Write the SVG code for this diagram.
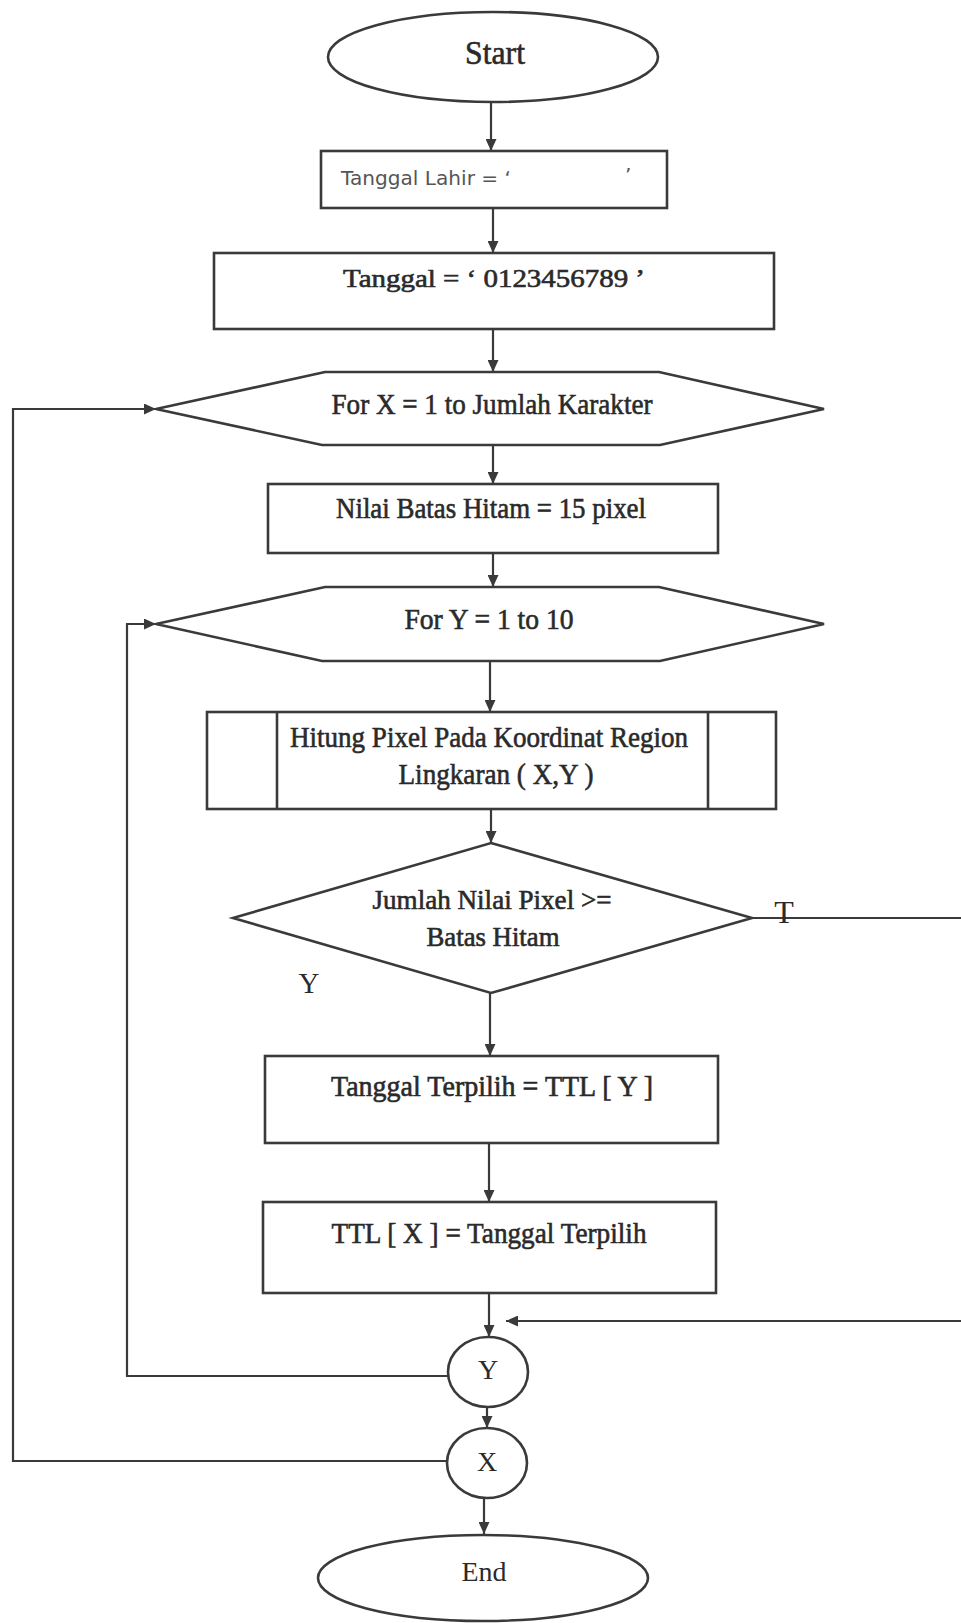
<svg xmlns="http://www.w3.org/2000/svg" width="961" height="1623" viewBox="0 0 961 1623">
<style>
.s{fill:#fff;stroke:#3a3a3a;stroke-width:2.6}
.c{fill:none;stroke:#3a3a3a;stroke-width:2.2}
.t{font-family:"Liberation Serif","Times New Roman",serif;fill:#2a2a2a;text-anchor:middle;stroke:#2a2a2a;stroke-width:0.6}
.n{font-family:"Liberation Serif","Times New Roman",serif;fill:#2a2a2a;text-anchor:middle}
.sans{font-family:"DejaVu Sans","Liberation Sans",sans-serif;fill:#555}
</style>
<defs>
<marker id="ah" markerUnits="userSpaceOnUse" markerWidth="12" markerHeight="11" refX="12" refY="5.5" orient="auto">
<path d="M0,0 L12,5.5 L0,11 z" fill="#3a3a3a"/>
</marker>
</defs>
<rect width="961" height="1623" fill="#fff"/>
<g id="connectors">
<path class="c" d="M491,102 V151" marker-end="url(#ah)"/>
<path class="c" d="M493,208 V253" marker-end="url(#ah)"/>
<path class="c" d="M493,329 V372" marker-end="url(#ah)"/>
<path class="c" d="M493,445 V484" marker-end="url(#ah)"/>
<path class="c" d="M493,553 V587" marker-end="url(#ah)"/>
<path class="c" d="M490,661 V712" marker-end="url(#ah)"/>
<path class="c" d="M491,809 V843" marker-end="url(#ah)"/>
<path class="c" d="M490,993 V1056" marker-end="url(#ah)"/>
<path class="c" d="M489,1143 V1202" marker-end="url(#ah)"/>
<path class="c" d="M489,1293 V1337" marker-end="url(#ah)"/>
<path class="c" d="M487,1407 V1428" marker-end="url(#ah)"/>
<path class="c" d="M484,1498 V1534" marker-end="url(#ah)"/>
<path class="c" d="M752,918 H968 V1321 H506" marker-end="url(#ah)"/>
<path class="c" d="M448,1376 H127 V624 H156" marker-end="url(#ah)"/>
<path class="c" d="M446,1461 H13 V409 H156" marker-end="url(#ah)"/>
<text class="n" x="784" y="923" font-size="32">T</text>
<text class="n" x="309" y="993" font-size="29">Y</text>
</g>
<g id="start">
<ellipse class="s" cx="493" cy="57" rx="165" ry="45"/>
<text class="t" x="495" y="64" font-size="34" textLength="60" lengthAdjust="spacingAndGlyphs">Start</text>
</g>
<g id="tanggal-lahir">
<rect class="s" x="321" y="151" width="346" height="57"/>
<text class="sans" x="341" y="185" font-size="20" textLength="170" lengthAdjust="spacingAndGlyphs">Tanggal Lahir = ‘</text>
<text class="sans" x="625" y="182" font-size="20">’</text>
</g>
<g id="tanggal">
<rect class="s" x="214" y="253" width="560" height="76"/>
<text class="t" x="494" y="287" font-size="25" textLength="302" lengthAdjust="spacingAndGlyphs">Tanggal = ‘ 0123456789 ’</text>
</g>
<g id="for-x">
<polygon class="s" points="156,409 325,372 659,372 824,409 660,445 322,445"/>
<text class="t" x="492" y="414" font-size="30" textLength="321" lengthAdjust="spacingAndGlyphs">For X = 1 to Jumlah Karakter</text>
</g>
<g id="nilai-batas">
<rect class="s" x="268" y="484" width="450" height="69"/>
<text class="t" x="491" y="518" font-size="29" textLength="310" lengthAdjust="spacingAndGlyphs">Nilai Batas Hitam = 15 pixel</text>
</g>
<g id="for-y">
<polygon class="s" points="156,624 325,587 659,587 824,624 660,661 322,661"/>
<text class="t" x="489" y="629" font-size="29" textLength="169" lengthAdjust="spacingAndGlyphs">For Y = 1 to 10</text>
</g>
<g id="hitung-pixel">
<rect class="s" x="207" y="712" width="569" height="97"/>
<line class="s" x1="277" y1="712" x2="277" y2="809"/>
<line class="s" x1="708" y1="712" x2="708" y2="809"/>
<text class="t" x="489" y="747" font-size="30" textLength="398" lengthAdjust="spacingAndGlyphs">Hitung Pixel Pada Koordinat Region</text>
<text class="t" x="496" y="784" font-size="30" textLength="195" lengthAdjust="spacingAndGlyphs">Lingkaran ( X,Y )</text>
</g>
<g id="decision">
<polygon class="s" points="491,843 752,918 491,993 233,918"/>
<text class="t" x="492" y="909" font-size="27" textLength="239" lengthAdjust="spacingAndGlyphs">Jumlah Nilai Pixel &gt;=</text>
<text class="t" x="493" y="946" font-size="27" textLength="133" lengthAdjust="spacingAndGlyphs">Batas Hitam</text>
</g>
<g id="tanggal-terpilih">
<rect class="s" x="265" y="1056" width="453" height="87"/>
<text class="t" x="492" y="1096" font-size="29" textLength="322" lengthAdjust="spacingAndGlyphs">Tanggal Terpilih = TTL  [ Y ]</text>
</g>
<g id="ttl-x">
<rect class="s" x="263" y="1202" width="453" height="91"/>
<text class="t" x="489" y="1243" font-size="29" textLength="315" lengthAdjust="spacingAndGlyphs">TTL  [ X ] = Tanggal  Terpilih</text>
</g>
<g id="next-y">
<ellipse class="s" cx="488" cy="1372" rx="40" ry="35"/>
<text class="n" x="488" y="1379" font-size="28">Y</text>
</g>
<g id="next-x">
<ellipse class="s" cx="487" cy="1463" rx="40" ry="35"/>
<text class="n" x="487" y="1471" font-size="28">X</text>
</g>
<g id="end">
<ellipse class="s" cx="483" cy="1578" rx="165" ry="43"/>
<text class="n" x="484" y="1581" font-size="27" textLength="45" lengthAdjust="spacingAndGlyphs">End</text>
</g>
</svg>
